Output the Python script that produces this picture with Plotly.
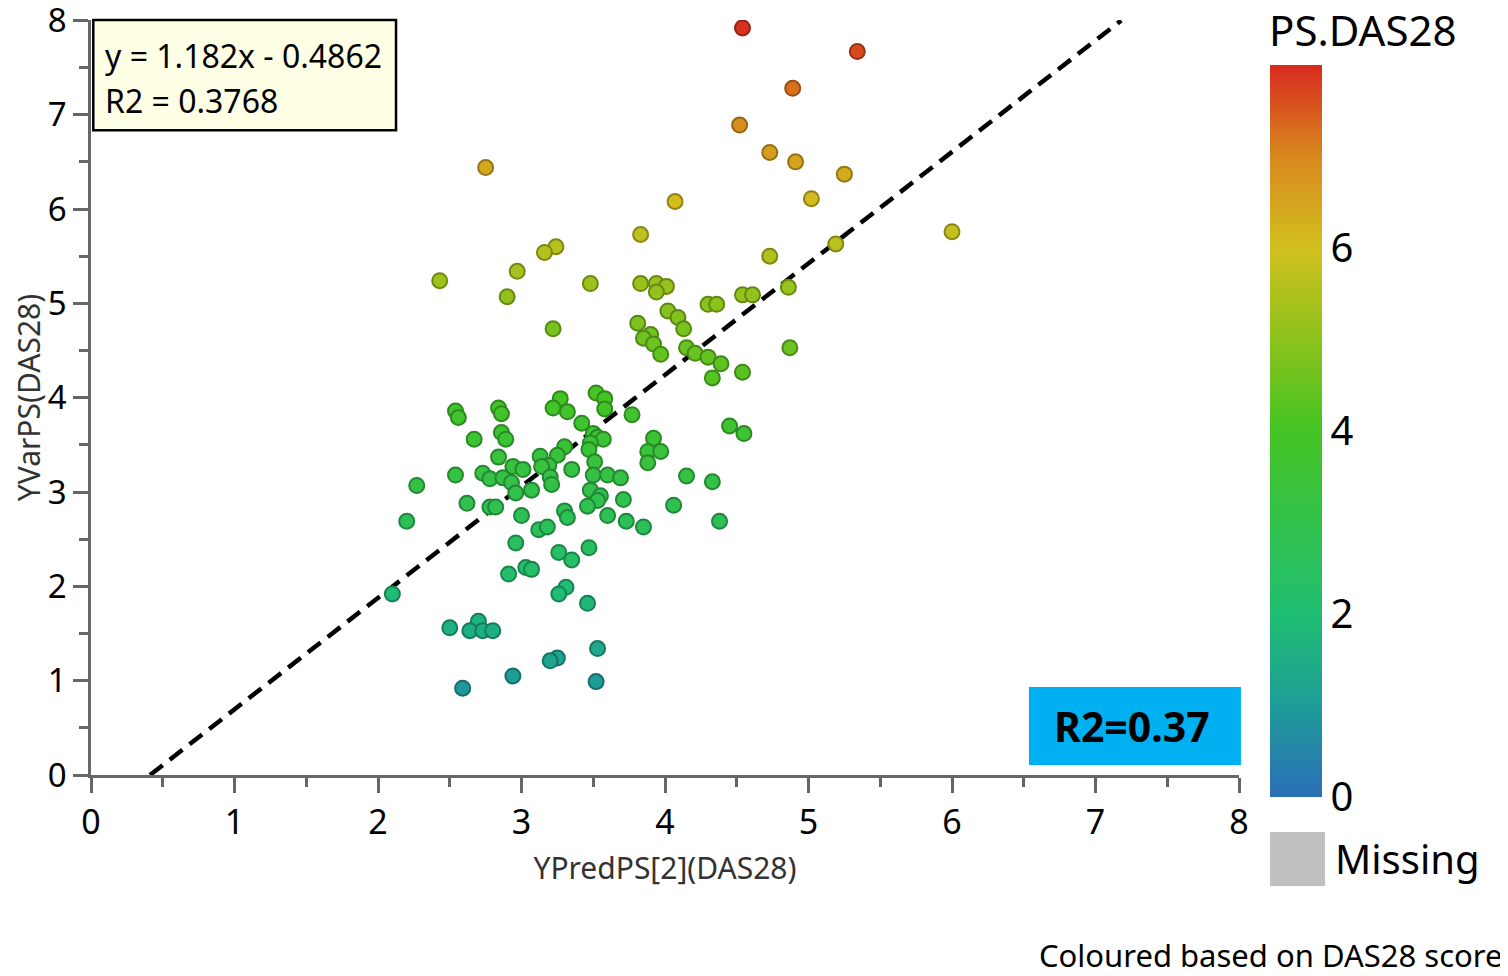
import plotly.graph_objects as go

# ---- data ----
y_pred = [4.54, 5.34, 4.89, 4.52, 4.73, 4.91, 5.25, 2.75, 5.02, 4.07,
          6.00, 3.83, 5.19, 3.24, 3.16, 4.73, 2.97, 2.43, 3.48, 3.83,
          3.94, 4.01, 3.94, 2.90, 4.54, 4.61, 4.86, 4.30, 4.36, 4.02,
          4.09, 3.81, 4.13, 3.22, 3.90, 3.85, 3.92, 3.97, 4.15, 4.21,
          4.30, 4.39, 4.87, 4.54, 4.33,
          2.54, 2.56, 2.84, 2.86, 3.27, 3.22, 3.32, 3.52, 3.58, 3.58,
          3.77, 3.42, 2.86, 2.89, 2.67, 3.50, 3.53, 3.57, 3.48, 3.47,
          3.30, 3.25, 3.13, 2.84, 2.94, 3.01, 3.19, 3.14, 3.35, 3.51,
          3.50, 3.60, 3.69, 2.54, 2.27, 2.73, 2.78, 2.87, 2.93, 3.20,
          3.21, 3.07, 2.96, 3.48, 3.55, 3.53, 3.71, 3.46, 2.62, 2.78,
          2.82, 3.92, 3.88, 3.97, 3.88, 4.06, 2.20, 3.00, 3.30, 3.32,
          3.60, 3.73, 3.85, 3.12, 3.18, 2.96, 3.26, 3.35, 3.47, 2.91,
          3.03, 3.07, 4.45, 4.55, 4.15, 4.33, 4.38,
          2.10, 3.31, 3.26, 3.46, 2.50, 2.70, 2.64, 2.73, 2.80, 3.53,
          3.25, 3.20, 2.94, 3.52, 2.59]
y_var = [7.92, 7.67, 7.28, 6.89, 6.60, 6.50, 6.37, 6.44, 6.11, 6.08,
         5.76, 5.73, 5.63, 5.60, 5.54, 5.50, 5.34, 5.24, 5.21, 5.21,
         5.21, 5.18, 5.12, 5.07, 5.09, 5.09, 5.17, 4.99, 4.99, 4.92,
         4.85, 4.79, 4.73, 4.73, 4.67, 4.63, 4.57, 4.46, 4.53, 4.47,
         4.43, 4.36, 4.53, 4.27, 4.21,
         3.86, 3.79, 3.89, 3.83, 3.99, 3.89, 3.85, 4.05, 3.99, 3.88,
         3.82, 3.73, 3.63, 3.56, 3.56, 3.62, 3.58, 3.56, 3.52, 3.45,
         3.48, 3.39, 3.38, 3.37, 3.27, 3.24, 3.28, 3.27, 3.24, 3.32,
         3.18, 3.18, 3.15, 3.18, 3.07, 3.20, 3.14, 3.15, 3.10, 3.16,
         3.08, 3.02, 2.99, 3.02, 2.96, 2.91, 2.92, 2.85, 2.88, 2.84,
         2.84, 3.57, 3.43, 3.43, 3.31, 2.86, 2.69, 2.75, 2.80, 2.73,
         2.75, 2.69, 2.63, 2.60, 2.63, 2.46, 2.36, 2.28, 2.41, 2.13,
         2.20, 2.18, 3.70, 3.62, 3.17, 3.11, 2.69,
         1.92, 1.99, 1.92, 1.82, 1.56, 1.63, 1.53, 1.53, 1.53, 1.34,
         1.24, 1.21, 1.05, 0.99, 0.92]
ps_das28 = list(y_var)  # colour variable

slope = 1.182
intercept = -0.4862
r2_text = "R2 = 0.3768"
eq_text = "y = 1.182x - 0.4862"
axis_ticks = [0, 1, 2, 3, 4, 5, 6, 7, 8]
cbar_ticks = [0, 2, 4, 6]

FONT = "Noto Sans"
AX = "#666666"

colorscale = [[0.0, "#2b6fb8"], [0.125, "#1e9c98"], [0.25, "#20be72"],
              [0.5, "#44c424"], [0.625, "#8cc21c"], [0.75, "#d2c01e"],
              [0.875, "#d8881e"], [1.0, "#d82a1e"]]
dark_scale = [[0.0, "#1e4e82"], [0.125, "#156e6b"], [0.25, "#168550"],
              [0.5, "#2f8a19"], [0.625, "#628813"], [0.75, "#938615"],
              [0.875, "#975f15"], [1.0, "#971d15"]]

fig = go.Figure()

# regression line across the visible y range
lx = [(0 - intercept) / slope, (8 - intercept) / slope]
ly = [slope * v + intercept for v in lx]
fig.add_trace(go.Scatter(x=lx, y=ly, mode="lines",
                         line=dict(color="black", width=4.5, dash="16px,9px"),
                         showlegend=False, hoverinfo="skip"))

fig.add_trace(go.Scatter(
    x=y_pred, y=y_var, mode="markers", showlegend=False,
    marker=dict(size=15, color=ps_das28, colorscale=colorscale, cmin=0, cmax=8,
                line=dict(width=2, color=ps_das28, colorscale=dark_scale, cmin=0, cmax=8),
                opacity=1,
                colorbar=dict(
                    x=1.027, xanchor="left", xpad=0, ypad=0,
                    y=0.4556, yanchor="middle", lenmode="pixels", len=732,
                    thickness=52, outlinewidth=0,
                    tickvals=cbar_ticks, ticks="",
                    tickfont=dict(family=FONT, size=40, color="black"),
                ))))

fig.update_xaxes(range=[0, 8], tickvals=axis_ticks, showgrid=False, zeroline=False,
                 showline=True, linecolor=AX, linewidth=2.5,
                 ticks="outside", ticklen=15, tickwidth=2.5, tickcolor=AX,
                 minor=dict(dtick=0.5, ticks="outside", ticklen=9, tickwidth=2.5, tickcolor=AX),
                 ticklabelstandoff=0,
                 tickfont=dict(family=FONT, size=34, color="black"),
                 title=dict(text="YPredPS[2](DAS28)", standoff=16,
                            font=dict(family=FONT, size=30, color="#333")))
fig.update_yaxes(range=[0, 8.004], tickvals=axis_ticks, showgrid=False, zeroline=False,
                 showline=True, linecolor=AX, linewidth=2.5,
                 ticks="outside", ticklen=15, tickwidth=2.5, tickcolor=AX,
                 minor=dict(dtick=0.5, ticks="outside", ticklen=9, tickwidth=2.5, tickcolor=AX),
                 ticklabeloverflow="allow",
                 tickfont=dict(family=FONT, size=33, color="black"),
                 title=dict(text="YVarPS(DAS28)", standoff=3,
                            font=dict(family=FONT, size=30, color="#333")))

shapes = [
    dict(type="rect", xref="paper", yref="paper", x0=0.002, x1=0.2657, y0=0.854, y1=1.0,
         fillcolor="#ffffe6", line=dict(color="black", width=2.5), layer="above"),
    dict(type="rect", xref="paper", yref="paper", x0=0.817, x1=1.0017, y0=0.0133, y1=0.1165,
         fillcolor="#00b0f0", line=dict(width=0), layer="above"),
    dict(type="rect", xref="paper", yref="paper", x0=1.027, x1=1.075, y0=-0.147, y1=-0.0755,
         fillcolor="#c0c0c0", line=dict(width=0)),
]
annotations = [
    dict(text=eq_text, xref="paper", yref="paper", x=0.0105, y=0.9536,
         xanchor="left", yanchor="middle", showarrow=False,
         font=dict(family=FONT, size=32, color="black")),
    dict(text=r2_text, xref="paper", yref="paper", x=0.0105, y=0.894,
         xanchor="left", yanchor="middle", showarrow=False,
         font=dict(family=FONT, size=32, color="black")),
    dict(text="<b>R2=0.37</b>", xref="paper", yref="paper", x=0.907, y=0.0649,
         xanchor="center", yanchor="middle", showarrow=False,
         font=dict(family=FONT, size=41, color="black")),
    dict(text="PS.DAS28", xref="paper", yref="paper", x=1.0244, y=0.987,
         xanchor="left", yanchor="middle", showarrow=False,
         font=dict(family=FONT, size=42, color="black")),
    dict(text="Missing", xref="paper", yref="paper", x=1.0819, y=-0.111,
         xanchor="left", yanchor="middle", showarrow=False,
         font=dict(family=FONT, size=40, color="black")),
    dict(text="Coloured based on DAS28 score", xref="paper", yref="paper", x=1.2308, y=-0.238,
         xanchor="right", yanchor="middle", showarrow=False,
         font=dict(family=FONT, size=31, color="black")),
]

# the page body adds an 8 px offset, so the figure is 8 px smaller than the window
fig.update_layout(width=1500, height=968, autosize=False,
                  margin=dict(l=83, r=269, t=12, b=201, autoexpand=False),
                  plot_bgcolor="white", paper_bgcolor="white",
                  shapes=shapes, annotations=annotations,
                  font=dict(family=FONT))

fig.write_html("out.html")
